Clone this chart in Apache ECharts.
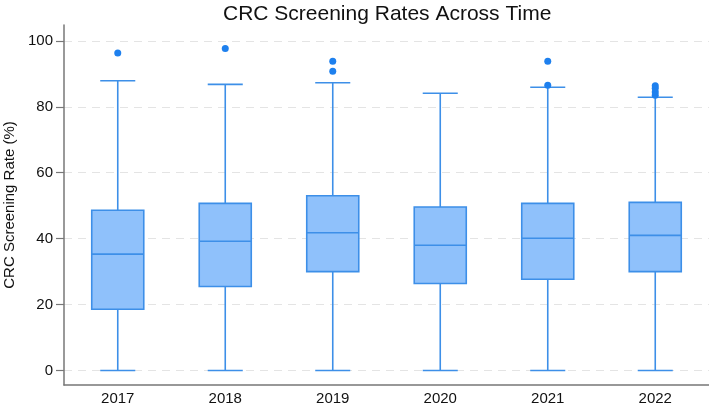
<!DOCTYPE html>
<html>
<head>
    <meta charset="UTF-8">
    <title>CRC Screening Rates</title>
    <script src="https://cdn.jsdelivr.net/npm/echarts@6/dist/echarts.min.js"></script>
</head>
<body style="margin:0;background:#fff;">
    <div id="main" style="width:709px;height:406px;"></div>
    <script>
        // years on the x axis
        var years = ['2017', '2018', '2019', '2020', '2021', '2022'];
        // box stats per year: [low, q1, median, q3, high]
        var lows = [0, 0, 0, 0, 0, 0];
        var q1s = [18.6, 25.5, 30.0, 26.4, 27.7, 30.0];
        var medians = [35.3, 39.2, 41.8, 38.0, 40.1, 41.0];
        var q3s = [48.6, 50.7, 53.0, 49.6, 50.7, 51.0];
        var highs = [87.9, 86.8, 87.3, 84.1, 85.9, 82.9];
        // outliers: [year index, value]
        var outliers = [
            [0, 96.3],
            [1, 97.7],
            [2, 93.8], [2, 90.8],
            [4, 93.8], [4, 86.5],
            [5, 86.4], [5, 85.6], [5, 84.5], [5, 83.5]
        ];
        var yTicks = [0, 20, 40, 60, 80, 100];

        var boxData = years.map(function (y, i) {
            return [i, lows[i], q1s[i], medians[i], q3s[i], highs[i]];
        });

        var lineColor = '#3d8fe8';
        var fillColor = '#8fc1fb';
        var font = "'Liberation Sans', Arial, sans-serif";

        // box + whiskers drawn through the axis scales
        function renderBox(params, api) {
            var idx = api.value(0);
            var band = api.size([1, 0])[0];
            var half = band * 0.242;
            var cap = band * 0.163;
            var pLow = api.coord([idx, api.value(1)]);
            var pQ1 = api.coord([idx, api.value(2)]);
            var pMed = api.coord([idx, api.value(3)]);
            var pQ3 = api.coord([idx, api.value(4)]);
            var pHigh = api.coord([idx, api.value(5)]);
            var x = pMed[0];
            var st = { stroke: lineColor, lineWidth: 1.6, fill: null };
            return {
                type: 'group',
                children: [
                    { type: 'line', shape: { x1: x, y1: pQ3[1], x2: x, y2: pHigh[1] }, style: st },
                    { type: 'line', shape: { x1: x, y1: pQ1[1], x2: x, y2: pLow[1] }, style: st },
                    { type: 'line', shape: { x1: x - cap, y1: pHigh[1], x2: x + cap, y2: pHigh[1] }, style: st },
                    { type: 'line', shape: { x1: x - cap, y1: pLow[1], x2: x + cap, y2: pLow[1] }, style: st },
                    {
                        type: 'rect',
                        shape: { x: x - half, y: pQ3[1], width: half * 2, height: pQ1[1] - pQ3[1] },
                        style: { fill: fillColor, stroke: lineColor, lineWidth: 1.6 }
                    },
                    { type: 'line', shape: { x1: x - half, y1: pMed[1], x2: x + half, y2: pMed[1] }, style: st }
                ]
            };
        }

        var myChart = echarts.init(document.getElementById('main'));
        var option = {
            animation: false,
            title: {
                text: 'CRC Screening Rates Across Time',
                left: 218,
                top: -1,
                textStyle: { fontFamily: font, fontSize: 21, fontWeight: 'normal', color: '#111' }
            },
            grid: { left: 64, right: 0, top: 25, bottom: 21, outerBoundsMode: 'none', containLabel: false },
            xAxis: {
                type: 'category',
                data: years,
                boundaryGap: true,
                axisLine: { onZero: false, lineStyle: { color: '#777', width: 1.5 } },
                axisTick: { show: false },
                axisLabel: { color: '#111', fontSize: 15, fontFamily: font, margin: 6 },
                splitLine: { show: false }
            },
            yAxis: {
                type: 'value',
                min: -4.4,
                max: 104.8,
                name: 'CRC Screening Rate (%)',
                nameLocation: 'middle',
                nameGap: 46,
                nameTextStyle: { color: '#111', fontSize: 15, fontFamily: font },
                axisLine: { show: true, lineStyle: { color: '#777', width: 1.5 } },
                axisTick: { show: true, length: 8, customValues: yTicks, lineStyle: { color: '#777', width: 1.2 } },
                axisLabel: { color: '#111', fontSize: 15, fontFamily: font, margin: 11, customValues: yTicks },
                splitLine: { show: true, lineStyle: { color: '#e4e4e4', type: [8, 6], width: 1 } }
            },
            series: [{
                type: 'custom',
                renderItem: renderBox,
                encode: { x: 0, y: [1, 2, 3, 4, 5] },
                data: boxData
            }, {
                type: 'scatter',
                symbol: 'circle',
                symbolSize: 7,
                itemStyle: { color: '#1e80ee', opacity: 1 },
                data: outliers
            }]
        };
        myChart.setOption(option);
    </script>
</body>
</html>
